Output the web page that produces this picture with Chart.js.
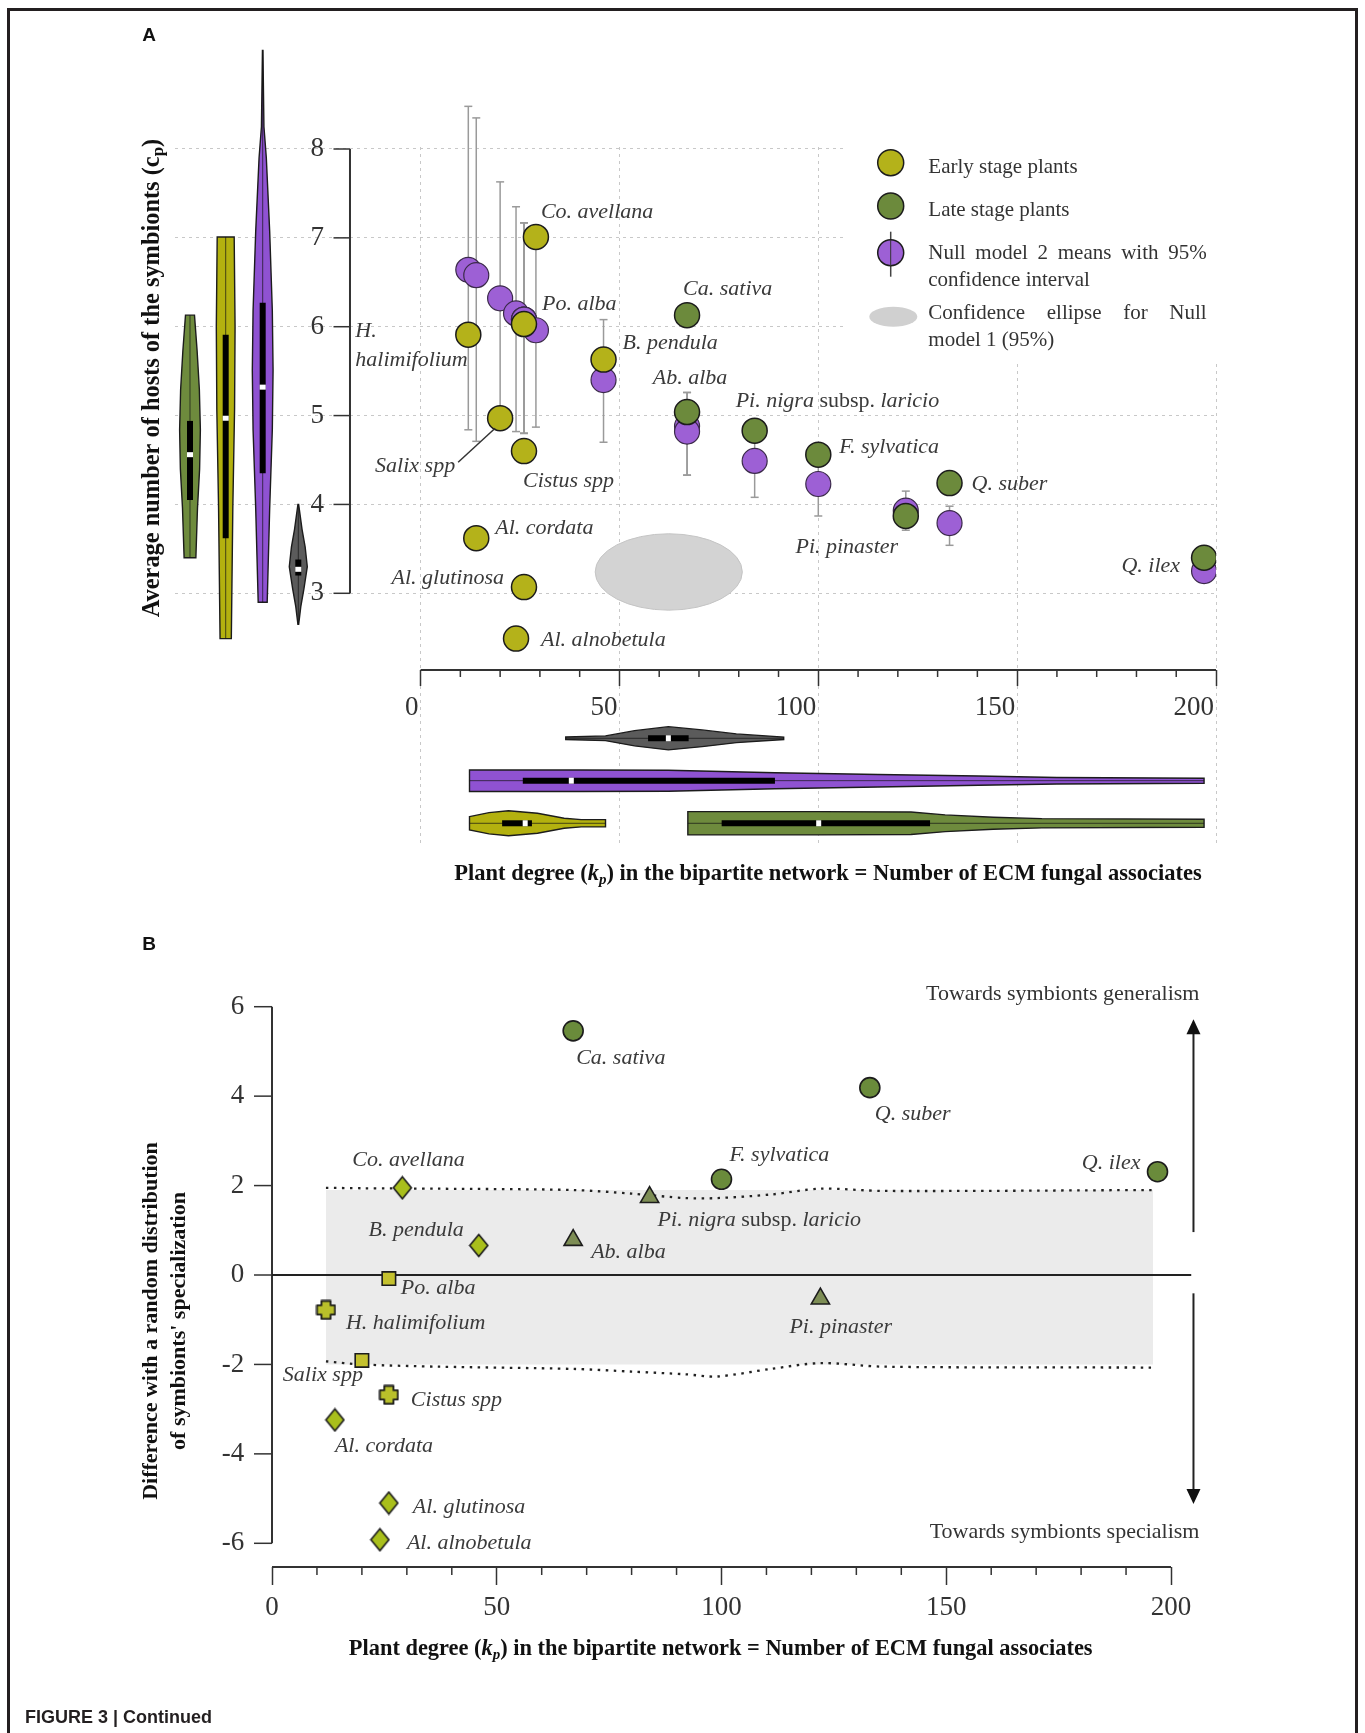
<!DOCTYPE html>
<html>
<head>
<meta charset="utf-8">
<script src="https://cdn.jsdelivr.net/npm/chart.js@4/dist/chart.umd.min.js"></script>
<style>
  html, body { margin: 0; padding: 0; background: #fff; }
  #wrap { position: relative; width: 1365px; height: 1733px; overflow: hidden; }
  canvas { position: absolute; left: 0; }
  #panelA { top: 0; }
  #panelB { top: 920px; }
</style>
</head>
<body>
<div id="wrap">
  <canvas id="panelA" width="1365" height="920"></canvas>
  <canvas id="panelB" width="1365" height="813"></canvas>
</div>
<script>
// plants, same order in both panels
const plantNames = ["H. halimifolium", "Al. cordata", "Salix spp", "Al. alnobetula", "Po. alba", "Cistus spp",
  "Al. glutinosa", "Co. avellana", "B. pendula", "Ca. sativa", "Ab. alba", "Pi. nigra {subsp.} laricio",
  "F. sylvatica", "Pi. pinaster", "Q. suber", "Q. ilex"];
const plantStage = ["early", "early", "early", "early", "early", "early", "early", "early", "early",
  "late", "late", "late", "late", "late", "late", "late"];
const plantFamily = ["Cistaceae", "Betulaceae", "Salicaceae", "Betulaceae", "Salicaceae", "Cistaceae",
  "Betulaceae", "Betulaceae", "Betulaceae", "Fagaceae", "Pinaceae", "Pinaceae", "Fagaceae", "Pinaceae",
  "Fagaceae", "Fagaceae"];
const plantDegree = [12, 14, 20, 24, 26, 26, 26, 29, 46, 67, 67, 84, 100, 122, 133, 197];

// panel A: average number of hosts of the symbionts
const hostsCp = [5.91, 3.62, 4.97, 2.49, 6.03, 4.60, 3.07, 7.01, 5.63, 6.13, 5.04, 4.83, 4.56, 3.87, 4.24, 3.40];
const null2Mean = [6.64, 6.58, 6.32, 6.15, 6.08, 6.08, 6.08, 5.96, 5.40, 4.88, 4.82, 4.49, 4.23, 3.93, 3.79, 3.25];
const null2Low = [4.84, 4.71, 4.84, 4.82, 4.80, 4.80, 4.80, 4.87, 4.70, 4.33, 4.33, 4.08, 3.87, 3.71, 3.54, 3.15];
const null2High = [8.48, 8.35, 7.63, 7.35, 7.17, 7.17, 7.17, 7.12, 6.08, 5.26, 5.26, 4.85, 4.55, 4.15, 3.98, 3.35];
const null1Center = [62.4, 3.24];
const null1Radius = [18.5, 0.43];

// violins along cp (values, relative width) and box [q1, median, q3]
const cpLateAt = [3.40, 3.96, 4.4, 4.84, 5.29, 5.73, 6.13];
const cpLateW = [0.47, 0.6, 0.77, 0.83, 0.75, 0.57, 0.36];
const cpLateBox = [4.05, 4.56, 4.94];
const cpEarlyAt = [2.49, 3.96, 5.07, 6.0, 7.01];
const cpEarlyW = [0.45, 0.57, 0.71, 0.75, 0.68];
const cpEarlyBox = [3.62, 4.97, 5.91];
const cpNull2At = [2.9, 3.96, 4.84, 5.51, 6.18, 7.07, 7.9, 8.25, 9.11];
const cpNull2W = [0.36, 0.56, 0.77, 0.83, 0.77, 0.56, 0.29, 0.1, 0.02];
const cpNull2Box = [4.35, 5.32, 6.27];
const cpNull1At = [2.65, 2.85, 3.05, 3.3, 3.52, 3.72, 4.0];
const cpNull1W = [0.03, 0.2, 0.45, 0.72, 0.55, 0.3, 0.03];
const cpNull1Box = [3.2, 3.27, 3.38];

// violins along plant degree kp
const kpNull1At = [36.5, 46.5, 53.8, 62.3, 70.8, 79.4, 91.3];
const kpNull1W = [0.1, 0.19, 0.61, 0.93, 0.67, 0.35, 0.1];
const kpNull1Box = [57.2, 62.3, 67.4];
const kpNull2At = [12.3, 40, 62.3, 89.1, 115, 140.3, 160, 197];
const kpNull2W = [0.86, 0.86, 0.84, 0.64, 0.5, 0.37, 0.26, 0.2];
const kpNull2Box = [25.7, 37.9, 89.1];
const kpEarlyAt = [12.3, 17.2, 22.1, 29.4, 36.1, 40.4, 46.5];
const kpEarlyW = [0.53, 0.85, 1.0, 0.8, 0.4, 0.29, 0.29];
const kpEarlyBox = [20.5, 26.3, 28];
const kpLateAt = [67.2, 100, 123.3, 131.9, 144, 156.2, 197];
const kpLateW = [0.93, 0.93, 0.9, 0.67, 0.48, 0.37, 0.32];
const kpLateBox = [75.7, 100.1, 128.1];

// panel B: difference with a random distribution
const diffRandom = [-0.78, -3.24, -1.91, -5.92, -0.08, -2.68, -5.1, 1.95, 0.66, 5.46, 0.78, 1.74, 2.14, -0.53, 4.19, 2.31];
const envDegree = [12, 20, 37, 67, 80, 92, 99, 111, 122, 136, 196];
const envUpper = [1.95, 1.94, 1.93, 1.9, 1.82, 1.72, 1.72, 1.8, 1.93, 1.88, 1.9];
const envLower = [-1.93, -2.0, -2.05, -2.1, -2.16, -2.22, -2.27, -2.1, -1.97, -2.05, -2.07];
const bandDegree = [12, 196];
const bandTop = [1.9, 1.9];
const bandBottom = [-2.0, -2.0];

const ticksA_x = [0, 50, 100, 150, 200];
const ticksA_y = [3, 4, 5, 6, 7, 8];
const ticksB_y = [-6, -4, -2, 0, 2, 4, 6];

// ---------- style ----------
const SERIF = '"Liberation Serif", "DejaVu Serif", serif';
const SANS = '"Liberation Sans", Arial, sans-serif';
const EARLY = '#b4b21a';
const LATE = '#6c8a3c';
const NULL2 = '#9d60d5';
const INK = '#1c1c1c';
const TEXT = '#3a3a3a';
const familyFill = { Betulaceae: '#a9bf1c', Salicaceae: '#c4c12e', Cistaceae: '#b9c02a', Fagaceae: '#6a8b3b', Pinaceae: '#7d8d55' };

// label placement (dx, dy from the point, alignment)
const labelPosA = [[-113, -3, 'left'], [19, -10, 'left'], [-45, 48, 'right'], [25, 2, 'left'], [18, -20, 'left'],
  [-1, 30, 'left'], [-20, -9, 'right'], [5, -25, 'left'], [19, -16, 'left'], [-4, -26, 'left'], [3, -34, 'center'],
  [-19, -29, 'left'], [21, -7, 'left'], [-59, 31, 'center'], [22, 1, 'left'], [-24, 8, 'right']];
const labelPosB = [[20, 13, 'left'], [0, 26, 'left'], [1, 15, 'right'], [27, 3, 'left'], [12, 10, 'left'],
  [22, 5, 'left'], [24, 4, 'left'], [-50, -28, 'left'], [-15, -15, 'right'], [3, 27, 'left'], [18, 12, 'left'],
  [8, 23, 'left'], [8, -24, 'left'], [-31, 29, 'left'], [5, 27, 'left'], [-17, -8, 'right']];

function line(ctx, x0, y0, x1, y1) {
  ctx.beginPath(); ctx.moveTo(x0, y0); ctx.lineTo(x1, y1); ctx.stroke();
}

function drawRich(ctx, s, x, y, align, size) {
  const parts = s.split(/(\{[^}]*\})/).filter(Boolean)
    .map(p => p[0] === '{' ? { t: p.slice(1, -1), f: size + 'px ' + SERIF } : { t: p, f: 'italic ' + size + 'px ' + SERIF });
  let w = 0;
  parts.forEach(p => { ctx.font = p.f; w += ctx.measureText(p.t).width; });
  let cx = align === 'left' ? x : align === 'right' ? x - w : x - w / 2;
  ctx.textAlign = 'left'; ctx.textBaseline = 'middle';
  parts.forEach(p => { ctx.font = p.f; ctx.fillText(p.t, cx, y); cx += ctx.measureText(p.t).width; });
}

function drawParts(ctx, parts, x, y) {
  let w = 0;
  parts.forEach(p => { ctx.font = p.f; w += ctx.measureText(p.t).width; });
  let cx = x - w / 2;
  ctx.textAlign = 'left'; ctx.textBaseline = 'middle';
  parts.forEach(p => { ctx.font = p.f; ctx.fillText(p.t, cx, y + (p.dy || 0)); cx += ctx.measureText(p.t).width; });
}

function justify(ctx, text, x, y, width) {
  const words = text.split(' ');
  const ws = words.map(w => ctx.measureText(w).width);
  const gap = (width - ws.reduce((a, b) => a + b, 0)) / (words.length - 1);
  let cx = x;
  words.forEach((w, i) => { ctx.fillText(w, cx, y); cx += ws[i] + gap; });
}

function drawViolin(ctx, scale, horiz, c, at, wd, box, fill) {
  const H = 12.5;
  const p = v => scale.getPixelForValue(v);
  ctx.save();
  ctx.beginPath();
  at.forEach((v, i) => {
    const a = p(v), w = wd[i] * H;
    if (horiz) { i ? ctx.lineTo(a, c - w) : ctx.moveTo(a, c - w); }
    else { i ? ctx.lineTo(c + w, a) : ctx.moveTo(c + w, a); }
  });
  for (let i = at.length - 1; i >= 0; i--) {
    const a = p(at[i]), w = wd[i] * H;
    horiz ? ctx.lineTo(a, c + w) : ctx.lineTo(c - w, a);
  }
  ctx.closePath();
  ctx.fillStyle = fill; ctx.fill();
  ctx.lineWidth = 1.4; ctx.strokeStyle = INK; ctx.stroke();
  const a0 = p(at[0]), a1 = p(at[at.length - 1]);
  ctx.lineWidth = 1; ctx.strokeStyle = 'rgba(20,20,20,0.7)';
  horiz ? line(ctx, a0, c, a1, c) : line(ctx, c, a0, c, a1);
  ctx.lineWidth = 6; ctx.strokeStyle = '#000';
  const q1 = p(box[0]), m = p(box[1]), q3 = p(box[2]);
  horiz ? line(ctx, q1, c, q3, c) : line(ctx, c, q1, c, q3);
  ctx.fillStyle = '#fff';
  horiz ? ctx.fillRect(m - 2.5, c - 3, 5, 6) : ctx.fillRect(c - 3, m - 2.5, 6, 5);
  ctx.restore();
}

function drawFrame(ctx, h, withTop) {
  ctx.save();
  ctx.strokeStyle = '#231f20'; ctx.lineWidth = 3;
  ctx.beginPath();
  ctx.moveTo(8.5, h); ctx.lineTo(8.5, withTop ? 9.5 : 0);
  if (withTop) ctx.lineTo(1356.5, 9.5); else ctx.moveTo(1356.5, 0);
  ctx.lineTo(1356.5, h);
  ctx.stroke();
  ctx.restore();
}

const tickFont = { family: SERIF, size: 27, lineHeight: 1.2 };

// ---------- panel A ----------
const Y_AXIS_AT = -17.75;   // x value where the cp axis stands
const Y_LABELS_AT = -24.3;  // x value where the cp tick labels end
const X_AXIS_AT = 2.137;    // cp value where the kp axis stands

const panelAPlugin = {
  id: 'panelADecor',
  beforeDatasetsDraw(chart) {
    const { ctx, scales: { x, y } } = chart;
    ctx.save();
    // null model 1 ellipse
    const ex = x.getPixelForValue(null1Center[0]), ey = y.getPixelForValue(null1Center[1]);
    const rx = x.getPixelForValue(null1Center[0] + null1Radius[0]) - ex;
    const ry = ey - y.getPixelForValue(null1Center[1] + null1Radius[1]);
    ctx.beginPath(); ctx.ellipse(ex, ey, rx, ry, 0, 0, 2 * Math.PI);
    ctx.fillStyle = '#d3d3d3'; ctx.fill(); ctx.strokeStyle = '#c4c4c4'; ctx.lineWidth = 1; ctx.stroke();

    // axis lines, cp ticks and minor kp ticks
    const ax = x.getPixelForValue(Y_AXIS_AT), ay = y.getPixelForValue(X_AXIS_AT);
    ctx.strokeStyle = '#333'; ctx.lineWidth = 2;
    line(ctx, ax, y.getPixelForValue(3), ax, y.getPixelForValue(8));
    line(ctx, x.getPixelForValue(0), ay, x.getPixelForValue(200), ay);
    ctx.lineWidth = 1.5;
    ticksA_y.forEach(v => line(ctx, ax - 16.5, y.getPixelForValue(v), ax, y.getPixelForValue(v)));
    for (let v = 10; v < 200; v += 10) {
      if (v % 50) line(ctx, x.getPixelForValue(v), ay, x.getPixelForValue(v), ay + 7);
    }

    // violins beside the cp axis
    drawViolin(ctx, y, false, ax - 160, cpLateAt, cpLateW, cpLateBox, '#6e8b3d');
    drawViolin(ctx, y, false, ax - 124.3, cpEarlyAt, cpEarlyW, cpEarlyBox, '#b3b10f');
    drawViolin(ctx, y, false, ax - 87.3, cpNull2At, cpNull2W, cpNull2Box, '#8f52d2');
    drawViolin(ctx, y, false, ax - 51.7, cpNull1At, cpNull1W, cpNull1Box, '#5b5b5b');
    // violins under the kp axis
    drawViolin(ctx, x, true, ay + 68.3, kpNull1At, kpNull1W, kpNull1Box, '#5b5b5b');
    drawViolin(ctx, x, true, ay + 110.7, kpNull2At, kpNull2W, kpNull2Box, '#8f52d2');
    drawViolin(ctx, x, true, ay + 153.3, kpEarlyAt, kpEarlyW, kpEarlyBox, '#b3b10f');
    drawViolin(ctx, x, true, ay + 153.3, kpLateAt, kpLateW, kpLateBox, '#6e8b3d');

    // 95% intervals of null model 2
    ctx.strokeStyle = '#9a9a9a'; ctx.lineWidth = 1.5;
    plantDegree.forEach((d, i) => {
      const px = x.getPixelForValue(d), y0 = y.getPixelForValue(null2Low[i]), y1 = y.getPixelForValue(null2High[i]);
      line(ctx, px, y0, px, y1);
      line(ctx, px - 4, y0, px + 4, y0);
      line(ctx, px - 4, y1, px + 4, y1);
    });

    // legend
    ctx.fillStyle = '#fff'; ctx.fillRect(845, 130, 380, 232);
    const dot = (cx, cy, col) => {
      ctx.beginPath(); ctx.arc(cx, cy, 13, 0, 2 * Math.PI);
      ctx.fillStyle = col; ctx.fill(); ctx.lineWidth = 1.5; ctx.strokeStyle = INK; ctx.stroke();
    };
    dot(890.7, 162.7, EARLY);
    dot(890.7, 206, LATE);
    ctx.strokeStyle = '#444'; ctx.lineWidth = 1.5; line(ctx, 890.7, 231.7, 890.7, 276.7);
    dot(890.7, 252.7, NULL2);
    ctx.strokeStyle = '#333'; ctx.lineWidth = 1; line(ctx, 890.7, 240, 890.7, 266);
    ctx.beginPath(); ctx.ellipse(893.3, 316.7, 24, 10, 0, 0, 2 * Math.PI);
    ctx.fillStyle = '#d0d0d0'; ctx.fill();
    ctx.fillStyle = '#333'; ctx.font = '21px ' + SERIF; ctx.textAlign = 'left'; ctx.textBaseline = 'middle';
    ctx.fillText('Early stage plants', 928.3, 167.7);
    ctx.fillText('Late stage plants', 928.3, 210);
    justify(ctx, 'Null model 2 means with 95%', 928.3, 253.3, 278.4);
    ctx.fillText('confidence interval', 928.3, 280);
    justify(ctx, 'Confidence ellipse for Null', 928.3, 313.3, 278.4);
    ctx.fillText('model 1 (95%)', 928.3, 340);
    ctx.restore();
  },
  afterDatasetsDraw(chart) {
    const { ctx, scales: { x, y } } = chart;
    ctx.save();
    ctx.fillStyle = TEXT;
    plantNames.forEach((name, i) => {
      const px = x.getPixelForValue(plantDegree[i]), py = y.getPixelForValue(hostsCp[i]);
      const [dx, dy, al] = labelPosA[i];
      if (i === 0) {
        drawRich(ctx, 'H.', px + dx, py + dy, al, 22);
        drawRich(ctx, 'halimifolium', px + dx, py + dy + 29, al, 22);
      } else {
        drawRich(ctx, name, px + dx, py + dy, al, 22);
      }
      if (i === 2) { // leader line for Salix spp
        ctx.strokeStyle = '#333'; ctx.lineWidth = 1.5;
        line(ctx, px - 42, py + 44, px - 5, py + 10);
      }
    });
    ctx.fillStyle = '#111';
    drawParts(ctx, [
      { t: 'Plant degree (', f: 'bold 22.5px ' + SERIF },
      { t: 'k', f: 'italic bold 22.5px ' + SERIF },
      { t: 'p', f: 'italic bold 15px ' + SERIF, dy: 6 },
      { t: ') in the bipartite network = Number of ECM fungal associates', f: 'bold 22.5px ' + SERIF }
    ], 828, 874);
    ctx.save();
    ctx.translate(153, 378); ctx.rotate(-Math.PI / 2);
    drawParts(ctx, [
      { t: 'Average number of hosts of the symbionts (c', f: 'bold 24.4px ' + SERIF },
      { t: 'p', f: 'bold 17px ' + SERIF, dy: 6 },
      { t: ')', f: 'bold 24.4px ' + SERIF }
    ], 0, 0);
    ctx.restore();
    ctx.font = 'bold 19px ' + SANS; ctx.textAlign = 'center'; ctx.textBaseline = 'middle';
    ctx.fillText('A', 149, 36);
    ctx.restore();
    drawFrame(ctx, 920, true);
  }
};

const pickA = stage => plantNames.map((n, i) => i).filter(i => plantStage[i] === stage);

new Chart(document.getElementById('panelA'), {
  type: 'scatter',
  data: {
    datasets: [
      {
        label: 'Early stage plants',
        data: pickA('early').map(i => ({ x: plantDegree[i], y: hostsCp[i] })),
        backgroundColor: EARLY, borderColor: INK, borderWidth: 1.5, pointRadius: 12.5
      },
      {
        label: 'Late stage plants',
        data: pickA('late').map(i => ({ x: plantDegree[i], y: hostsCp[i] })),
        backgroundColor: LATE, borderColor: INK, borderWidth: 1.5, pointRadius: 12.5
      },
      {
        label: 'Null model 2 means with 95% confidence interval',
        data: plantDegree.map((d, i) => ({ x: d, y: null2Mean[i] })),
        backgroundColor: NULL2, borderColor: '#3b2a4a', borderWidth: 1.2, pointRadius: 12.5
      }
    ]
  },
  options: {
    responsive: false, animation: false, events: [],
    layout: { padding: { left: 175, right: 149, top: 147, bottom: 75 } },
    plugins: { legend: { display: false }, tooltip: { enabled: false } },
    scales: {
      x: {
        type: 'linear', min: -61.75, max: 200, position: { y: X_AXIS_AT },
        afterBuildTicks: s => { s.ticks = ticksA_x.map(v => ({ value: v })); },
        ticks: { font: tickFont, color: '#333', align: 'end', labelOffset: -2, padding: 6, autoSkip: false, maxRotation: 0 },
        grid: { color: '#c8c8c8', lineWidth: 1, tickLength: 16, tickColor: '#333', tickWidth: 1.5 },
        border: { display: false, dash: [3, 4] }
      },
      y: {
        type: 'linear', min: 0.1674, max: 8.0225, position: { x: Y_LABELS_AT },
        afterBuildTicks: s => { s.ticks = ticksA_y.map(v => ({ value: v })); },
        ticks: { font: tickFont, color: '#333', autoSkip: false },
        grid: { color: '#c8c8c8', lineWidth: 1, drawTicks: false },
        border: { display: false, dash: [3, 4] }
      }
    }
  },
  plugins: [panelAPlugin]
});

// ---------- panel B ----------
function markerCanvas(w, h, draw) {
  const c = document.createElement('canvas');
  c.width = w; c.height = h;
  draw(c.getContext('2d'), w, h);
  return c;
}
const diamondMark = markerCanvas(21, 25, (g, w, h) => {
  g.beginPath(); g.moveTo(w / 2, 1.5); g.lineTo(w - 1.5, h / 2); g.lineTo(w / 2, h - 1.5); g.lineTo(1.5, h / 2); g.closePath();
  g.fillStyle = familyFill.Betulaceae; g.fill(); g.lineWidth = 1.6; g.strokeStyle = INK; g.stroke();
});
const crossMark = markerCanvas(21, 21, (g, w) => {
  const c = w / 2, a = 4.6, s = 9;
  const pts = [[-a, -s], [a, -s], [a, -a], [s, -a], [s, a], [a, a], [a, s], [-a, s], [-a, a], [-s, a], [-s, -a], [-a, -a]];
  g.beginPath(); pts.forEach(([px, py], i) => i ? g.lineTo(c + px, c + py) : g.moveTo(c + px, c + py)); g.closePath();
  g.lineJoin = 'round'; g.fillStyle = familyFill.Cistaceae; g.fill(); g.lineWidth = 1.8; g.strokeStyle = INK; g.stroke();
});
const familyStyle = { Betulaceae: diamondMark, Cistaceae: crossMark, Salicaceae: 'rect', Fagaceae: 'circle', Pinaceae: 'triangle' };
const familyRadius = { Betulaceae: 10, Cistaceae: 10, Salicaceae: 9.5, Fagaceae: 10, Pinaceae: 10.5 };

const ARROW_X = 205;
const B_LABELS_AT = -6.2;   // x value where the y tick labels end

const panelBPlugin = {
  id: 'panelBDecor',
  beforeDatasetsDraw(chart) {
    const { ctx, scales: { x, y } } = chart;
    ctx.save();
    ctx.strokeStyle = '#333'; ctx.lineWidth = 2;
    const ax = x.getPixelForValue(0), ay = y.getPixelForValue(y.min);
    line(ctx, ax, y.getPixelForValue(6), ax, y.getPixelForValue(-6));
    line(ctx, x.getPixelForValue(0), ay, x.getPixelForValue(200), ay);
    ctx.lineWidth = 1.5;
    ticksB_y.forEach(v => line(ctx, ax - 18, y.getPixelForValue(v), ax, y.getPixelForValue(v)));
    for (let v = 10; v < 200; v += 10) {
      if (v % 50) line(ctx, x.getPixelForValue(v), ay, x.getPixelForValue(v), ay + 8);
    }
    ctx.restore();
  },
  afterDatasetsDraw(chart) {
    const { ctx, scales: { x, y } } = chart;
    ctx.save();
    // arrows
    const axp = x.getPixelForValue(ARROW_X);
    ctx.strokeStyle = '#222'; ctx.fillStyle = '#111'; ctx.lineWidth = 2;
    const upTip = y.getPixelForValue(5.72), upBase = y.getPixelForValue(0.96);
    const dnTip = y.getPixelForValue(-5.12), dnBase = y.getPixelForValue(-0.41);
    line(ctx, axp, upBase, axp, upTip + 12);
    ctx.beginPath(); ctx.moveTo(axp, upTip); ctx.lineTo(axp - 7, upTip + 15); ctx.lineTo(axp + 7, upTip + 15); ctx.closePath(); ctx.fill();
    line(ctx, axp, dnBase, axp, dnTip - 12);
    ctx.beginPath(); ctx.moveTo(axp, dnTip); ctx.lineTo(axp - 7, dnTip - 15); ctx.lineTo(axp + 7, dnTip - 15); ctx.closePath(); ctx.fill();
    ctx.fillStyle = '#333'; ctx.font = '22px ' + SERIF; ctx.textAlign = 'right'; ctx.textBaseline = 'middle';
    ctx.fillText('Towards symbionts generalism', axp + 6, y.getPixelForValue(6.27));
    ctx.fillText('Towards symbionts specialism', axp + 6, y.getPixelForValue(-5.75));

    // plant labels
    ctx.fillStyle = TEXT;
    plantNames.forEach((name, i) => {
      const px = x.getPixelForValue(plantDegree[i]), py = y.getPixelForValue(diffRandom[i]);
      const [dx, dy, al] = labelPosB[i];
      drawRich(ctx, name, px + dx, py + dy, al, 22);
    });

    // titles
    ctx.fillStyle = '#111';
    drawParts(ctx, [
      { t: 'Plant degree (', f: 'bold 22.4px ' + SERIF },
      { t: 'k', f: 'italic bold 22.4px ' + SERIF },
      { t: 'p', f: 'italic bold 15px ' + SERIF, dy: 6 },
      { t: ') in the bipartite network = Number of ECM fungal associates', f: 'bold 22.4px ' + SERIF }
    ], 720.7, 729);
    ctx.save();
    ctx.translate(151, 401); ctx.rotate(-Math.PI / 2);
    drawParts(ctx, [{ t: 'Difference with a random distribution', f: 'bold 22px ' + SERIF }], 0, 0);
    drawParts(ctx, [{ t: "of symbionts' specialization", f: 'bold 22px ' + SERIF }], 0, 28);
    ctx.restore();
    ctx.font = 'bold 19px ' + SANS; ctx.textAlign = 'center'; ctx.textBaseline = 'middle';
    ctx.fillText('B', 149, 25);
    ctx.fillStyle = '#231f20'; ctx.font = 'bold 18px ' + SANS; ctx.textAlign = 'left'; ctx.textBaseline = 'alphabetic';
    ctx.fillText('FIGURE 3 | Continued', 25, 803);
    ctx.restore();
    drawFrame(ctx, 813, false);
  }
};

new Chart(document.getElementById('panelB'), {
  type: 'scatter',
  data: {
    datasets: [
      {
        type: 'line', label: 'band', data: bandDegree.map((d, i) => ({ x: d, y: bandTop[i] })),
        borderWidth: 0, pointRadius: 0, fill: '+1', backgroundColor: '#ebebeb', order: 10
      },
      {
        type: 'line', label: 'band bottom', data: bandDegree.map((d, i) => ({ x: d, y: bandBottom[i] })),
        borderWidth: 0, pointRadius: 0, fill: false, order: 10
      },
      {
        type: 'line', label: 'upper limit', data: envDegree.map((d, i) => ({ x: d, y: envUpper[i] })),
        borderColor: '#222', borderWidth: 2.3, borderDash: [2.5, 5.5], pointRadius: 0, tension: 0.3, order: 5
      },
      {
        type: 'line', label: 'lower limit', data: envDegree.map((d, i) => ({ x: d, y: envLower[i] })),
        borderColor: '#222', borderWidth: 2.3, borderDash: [2.5, 5.5], pointRadius: 0, tension: 0.3, order: 5
      },
      {
        type: 'line', label: 'zero', data: [{ x: 0, y: 0 }, { x: 204.5, y: 0 }],
        borderColor: '#222', borderWidth: 2, pointRadius: 0, clip: false, order: 4
      },
      {
        label: 'plants', data: plantDegree.map((d, i) => ({ x: d, y: diffRandom[i] })),
        pointStyle: c => familyStyle[plantFamily[c.dataIndex]] || 'circle',
        pointRadius: c => familyRadius[plantFamily[c.dataIndex]] || 10,
        backgroundColor: c => familyFill[plantFamily[c.dataIndex]] || LATE,
        borderColor: INK, borderWidth: 1.6, order: 0, clip: false
      }
    ]
  },
  options: {
    responsive: false, animation: false, events: [],
    layout: { padding: { left: 272, right: 194, top: 80, bottom: 166 } },
    plugins: { legend: { display: false }, tooltip: { enabled: false } },
    scales: {
      x: {
        type: 'linear', min: 0, max: 200, position: { y: -6.53 },
        afterBuildTicks: s => { s.ticks = ticksA_x.map(v => ({ value: v })); },
        ticks: { font: tickFont, color: '#333', padding: 7, autoSkip: false, maxRotation: 0 },
        grid: { drawOnChartArea: false, tickLength: 18, tickColor: '#333', tickWidth: 1.5 },
        border: { display: false }
      },
      y: {
        type: 'linear', min: -6.53, max: 6.15, position: { x: B_LABELS_AT },
        afterBuildTicks: s => { s.ticks = ticksB_y.map(v => ({ value: v })); },
        ticks: { font: tickFont, color: '#333', autoSkip: false },
        grid: { drawOnChartArea: false, drawTicks: false },
        border: { display: false }
      }
    }
  },
  plugins: [panelBPlugin]
});
</script>
</body>
</html>
